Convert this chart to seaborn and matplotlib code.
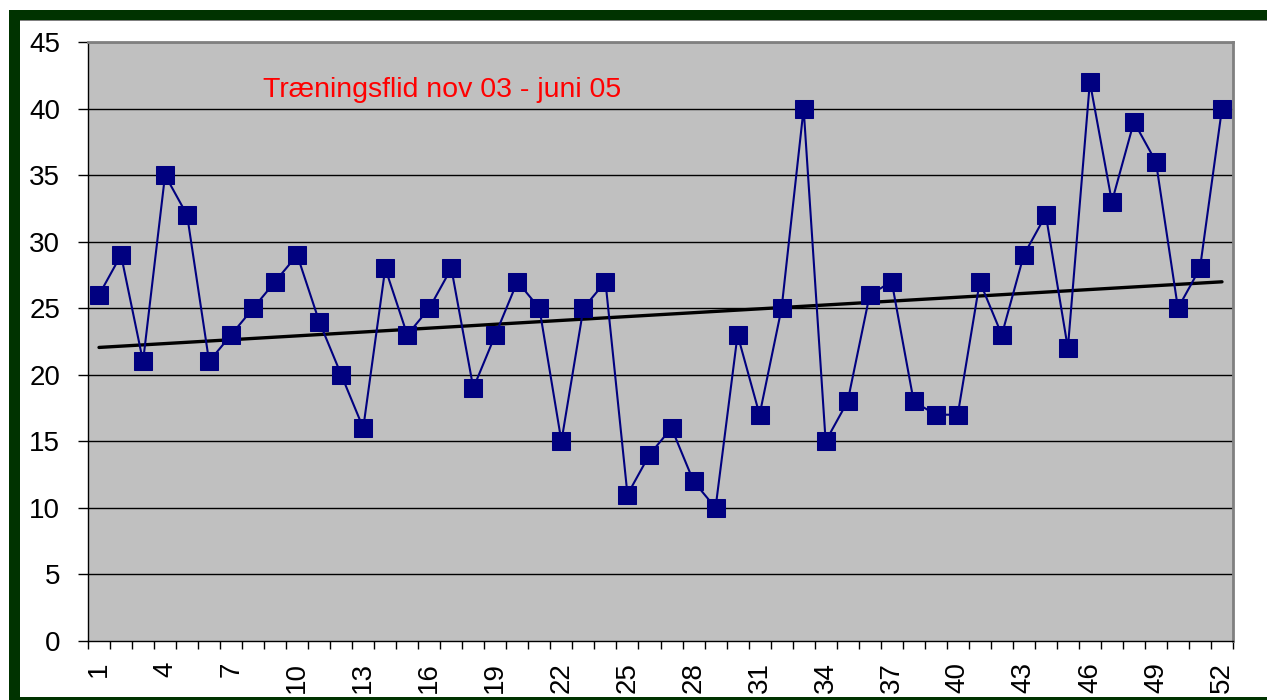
#!/usr/bin/env python3
"""
Træningsflid nov 03 - juni 05: weekly training effort with a linear trend line
"""
import numpy as np
import pandas as pd
import matplotlib
matplotlib.use("Agg")
import matplotlib.pyplot as plt
from matplotlib.patches import Rectangle
from matplotlib.ticker import FixedLocator
import seaborn as sns

# Data
weeks = list(range(1, 53))
effort = [26, 29, 21, 35, 32, 21, 23, 25, 27, 29,
          24, 20, 16, 28, 23, 25, 28, 19, 23, 27,
          25, 15, 25, 27, 11, 14, 16, 12, 10, 23,
          17, 25, 40, 15, 18, 26, 27, 18, 17, 17,
          27, 23, 29, 32, 22, 42, 33, 39, 36, 25,
          28, 40]
tick_weeks = list(range(1, 53, 3))
y_ticks = list(range(0, 50, 5))
title_text = "Træningsflid nov 03 - juni 05"

df = pd.DataFrame({"week": weeks, "effort": effort})

sns.set_style("white")
plt.rcParams['font.family'] = ['Liberation Sans', 'DejaVu Sans']

W, H = 1267, 700
fig = plt.figure(figsize=(W / 100, H / 100), dpi=100)

# dark green frame around the chart (clipped on right / bottom like the original)
def px_rect(x0, y0, x1, y1, **kw):
    return Rectangle((x0 / W, 1 - y1 / H), (x1 - x0) / W, (y1 - y0) / H,
                     transform=fig.transFigure, **kw)

fig.patches.append(px_rect(9, 10, W + 10, H + 10, facecolor="#003300", edgecolor="none", zorder=-3))
fig.patches.append(px_rect(20, 20, W + 10, 697, facecolor="white", edgecolor="none", zorder=-2))
fig.patches.append(px_rect(20, 20, W + 10, 21, facecolor="#808080", edgecolor="none", zorder=-1))

ax = fig.add_axes([88 / W, 1 - 641 / H, (1233 - 88) / W, (641 - 42) / H])
ax.set_zorder(1)
ax.set_facecolor("#C0C0C0")

for v in y_ticks[1:]:
    ax.axhline(v, color="black", linewidth=1.0, zorder=1)

sns.lineplot(data=df, x="week", y="effort", ax=ax, color="#000080", linewidth=1.5,
             marker="s", markersize=13, markeredgecolor="#000080", zorder=3)

sns.regplot(data=df, x="week", y="effort", ax=ax, scatter=False, ci=None,
            line_kws={"color": "black", "linewidth": 2.4, "zorder": 2})

ax.set_xlim(0.5, 52.5)
ax.set_ylim(0, 45)
ax.set_xlabel("")
ax.set_ylabel("")

ax.yaxis.set_major_locator(FixedLocator(y_ticks))
ax.set_yticklabels([str(v) for v in y_ticks], fontsize=20, color="black")
ax.set_xticks(tick_weeks)
ax.set_xticklabels([str(w) for w in tick_weeks], rotation=90, fontsize=20, color="black")
ax.xaxis.set_minor_locator(FixedLocator(np.arange(0.5, 53, 1.0)))

ax.tick_params(axis="y", which="major", left=True, length=7, width=1, color="black", pad=13)
ax.tick_params(axis="x", which="major", bottom=True, length=0, pad=15)
ax.tick_params(axis="x", which="minor", bottom=True, length=6, width=1, color="black")

for side in ["left", "bottom"]:
    ax.spines[side].set_color("black")
    ax.spines[side].set_linewidth(1.0)
for side in ["top", "right"]:
    ax.spines[side].set_visible(True)
    ax.spines[side].set_color("#808080")
    ax.spines[side].set_linewidth(2.0)

ax.text(8.45, 41.4, title_text, color="#FF0000", fontsize=20.5, va="center", ha="left")

fig.savefig("out.png", dpi=100)
